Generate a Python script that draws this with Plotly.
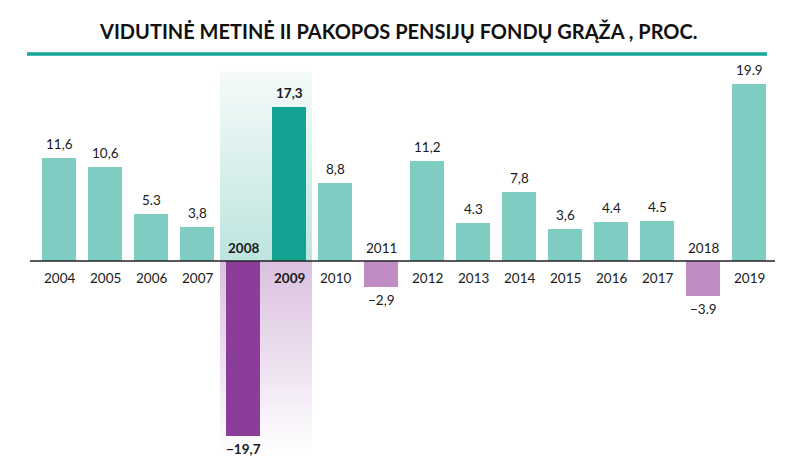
import plotly.graph_objects as go

years = [2004, 2005, 2006, 2007, 2008, 2009, 2010, 2011, 2012, 2013, 2014, 2015, 2016, 2017, 2018, 2019]
values = [11.6, 10.6, 5.3, 3.8, -19.7, 17.3, 8.8, -2.9, 11.2, 4.3, 7.8, 3.6, 4.4, 4.5, -3.9, 19.9]
value_labels = ["11,6", "10,6", "5.3", "3,8", "\u221219,7", "17,3", "8,8", "\u22122,9", "11,2", "4.3",
                "7,8", "3,6", "4.4", "4.5", "\u22123.9", "19.9"]
highlight_years = [2008, 2009]
title = "VIDUTINĖ METINĖ II PAKOPOS PENSIJŲ FONDŲ GRĄŽA , PROC."

C_POS = "#7ECCC2"
C_POS_HI = "#12A393"
C_NEG = "#C08CC6"
C_NEG_HI = "#8B3D99"

colors = []
for y, v in zip(years, values):
    hi = y in highlight_years
    if v >= 0:
        colors.append(C_POS_HI if hi else C_POS)
    else:
        colors.append(C_NEG_HI if hi else C_NEG)

FONT = "Lato"
OFF = 8  # browser body margin
W, H = 800 - OFF, 471 - OFF
fig = go.Figure()

# highlight gradient band behind 2008-2009 (on base axes)
hx0, hx1 = min(highlight_years) - 0.5, max(highlight_years) + 0.5
top_y, bot_y = 21.3, -21.8
fig.add_trace(go.Scatter(
    x=[hx0, hx1, hx1, hx0, hx0], y=[0, 0, top_y, top_y, 0],
    mode="lines", line=dict(width=0), fill="toself",
    fillgradient=dict(type="vertical", start=0, stop=top_y,
                      colorscale=[[0, "#BDE4DF"], [1, "#F5FBFA"]]),
    hoverinfo="skip", showlegend=False, xaxis="x", yaxis="y"))
fig.add_trace(go.Scatter(
    x=[hx0, hx1, hx1, hx0, hx0], y=[0, 0, bot_y, bot_y, 0],
    mode="lines", line=dict(width=0), fill="toself",
    fillgradient=dict(type="vertical", start=bot_y, stop=0,
                      colorscale=[[0, "#FFFFFF"], [1, "#DAC0DF"]]),
    hoverinfo="skip", showlegend=False, xaxis="x", yaxis="y"))

# bars on overlaid axes so they draw above the gradient
fig.add_trace(go.Bar(x=years, y=values, marker=dict(color=colors, line=dict(width=0)),
                     width=0.72, hoverinfo="skip", showlegend=False, xaxis="x2", yaxis="y2"))

annotations = []
for y, v, lab in zip(years, values, value_labels):
    bold = y in highlight_years
    f = dict(family=FONT, size=13.5, color="#1a1a1a")
    ylab = f"<b>{y}</b>" if bold else str(y)
    vlab = f"<b>{lab}</b>" if bold else lab
    if v >= 0:
        annotations.append(dict(x=y, y=v, xref="x2", yref="y2", text=vlab, showarrow=False, yshift=14, font=f))
        annotations.append(dict(x=y, y=0, xref="x2", yref="y2", text=ylab, showarrow=False, yshift=-17, font=f))
    else:
        annotations.append(dict(x=y, y=v, xref="x2", yref="y2", text=vlab, showarrow=False, yshift=-13, font=f))
        annotations.append(dict(x=y, y=0, xref="x2", yref="y2", text=ylab, showarrow=False, yshift=13, font=f))

annotations.append(dict(xref="paper", yref="paper", x=(398 - OFF) / W, y=1 - (31 - OFF) / H,
                        xanchor="center", yanchor="middle",
                        text=f"<b>{title}</b>", showarrow=False,
                        font=dict(family=FONT, size=20, color="#111111")))

shapes = [
    dict(type="line", xref="paper", yref="paper", x0=(27 - OFF) / W, x1=(767 - OFF) / W,
         y0=1 - (54 - OFF) / H, y1=1 - (54 - OFF) / H, line=dict(color="#14A697", width=3.5)),
    dict(type="line", xref="x2", yref="y2", x0=2003.37, x1=2019.565, y0=0, y1=0,
         line=dict(color="#222222", width=1.5)),
]

px_per_year = 46.0
x0 = 2004 - (59 - OFF) / px_per_year
x1 = x0 + W / px_per_year
px_per_unit = 8.9
y1 = (261 - OFF) / px_per_unit
y0 = -(H - (261 - OFF)) / px_per_unit

ax = dict(visible=False, fixedrange=True)
fig.update_layout(
    width=W, height=H,
    margin=dict(l=0, r=0, t=0, b=0),
    paper_bgcolor="white", plot_bgcolor="white",
    xaxis=dict(range=[x0, x1], **ax),
    yaxis=dict(range=[y0, y1], **ax),
    xaxis2=dict(range=[x0, x1], overlaying="x", **ax),
    yaxis2=dict(range=[y0, y1], overlaying="y", **ax),
    annotations=annotations, shapes=shapes,
    bargap=0,
)

fig.write_html("out.html")
